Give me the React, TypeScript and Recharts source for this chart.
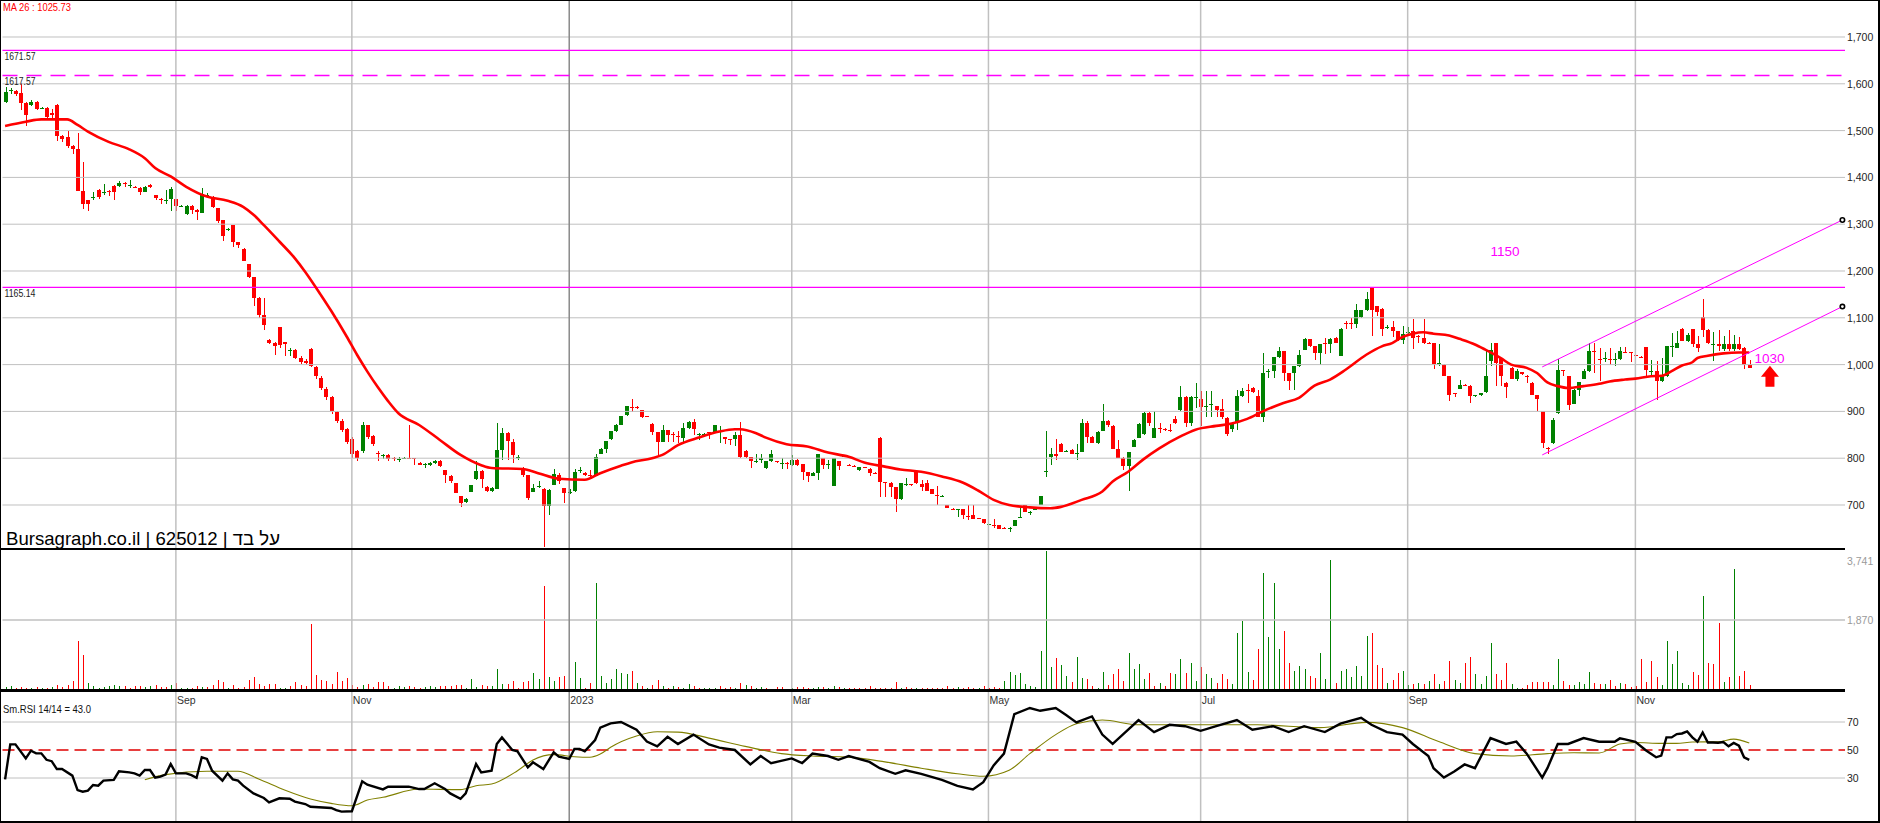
import React from 'react';
import { ComposedChart, Bar, Line, XAxis, YAxis, ReferenceLine, ReferenceDot } from 'recharts';

const FONT = '"Liberation Sans", Arial, Helvetica, sans-serif';
const GREEN = '#008000';
const RED = '#ff0000';
const MAGENTA = '#ff00ff';
const GRID = '#c0c0c0';

const SLOTS = 356; // trading-day slots across the plot, incl. empty room on the right

// daily candles: [open, high, low, close]
const ohlcAugOct22 = [
  [1562, 1594, 1559, 1582], [1584, 1590, 1578, 1586], [1584, 1587, 1573, 1578], [1580, 1601, 1545, 1560],
  [1560, 1562, 1509, 1534], [1555, 1565, 1553, 1562], [1562, 1564, 1543, 1547], [1547, 1550, 1546, 1549],
  [1548, 1550, 1522, 1530], [1538, 1547, 1526, 1534], [1555, 1556, 1477, 1488], [1488, 1490, 1476, 1481],
  [1487, 1499, 1463, 1468], [1468, 1469, 1451, 1461], [1460, 1494, 1371, 1371], [1370, 1432, 1332, 1343],
  [1351, 1352, 1328, 1343], [1357, 1368, 1352, 1359], [1374, 1376, 1354, 1359], [1367, 1386, 1363, 1368],
  [1370, 1372, 1360, 1369], [1381, 1383, 1351, 1369], [1382, 1392, 1380, 1389], [1389, 1391, 1379, 1385],
  [1382, 1394, 1378, 1383], [1380, 1381, 1378, 1379], [1378, 1379, 1363, 1369], [1369, 1381, 1368, 1379],
  [1384, 1386, 1378, 1379], [1362, 1363, 1352, 1357], [1353, 1356, 1343, 1352], [1350, 1372, 1343, 1351],
  [1353, 1380, 1328, 1375], [1353, 1354, 1328, 1339], [1338, 1341, 1337, 1339], [1321, 1340, 1320, 1339],
  [1339, 1340, 1321, 1331], [1331, 1333, 1309, 1325], [1324, 1378, 1323, 1364], [1361, 1367, 1357, 1362],
  [1359, 1360, 1335, 1336], [1334, 1335, 1302, 1307], [1309, 1310, 1265, 1275], [1288, 1292, 1286, 1289],
  [1298, 1299, 1251, 1261], [1261, 1262, 1249, 1255], [1248, 1249, 1221, 1222], [1215, 1216, 1186, 1187],
  [1187, 1188, 1125, 1143], [1143, 1144, 1099, 1107], [1106, 1143, 1073, 1084], [1053, 1054, 1043, 1047],
  [1047, 1048, 1021, 1040], [1080, 1081, 1036, 1041], [1048, 1049, 1019, 1043], [1029, 1036, 1019, 1031],
];

const ohlcOctNov22 = [
  [1031, 1033, 1012, 1015], [1015, 1018, 1002, 1005], [1008, 1012, 1000, 1003], [1033, 1036, 995, 998],
  [995, 998, 970, 975], [972, 975, 945, 950], [948, 952, 925, 930], [930, 933, 895, 900],
  [898, 900, 875, 880], [880, 884, 855, 860], [862, 864, 830, 835], [840, 845, 800, 808],
  [815, 818, 795, 800], [815, 878, 812, 870], [870, 872, 842, 845], [848, 850, 825, 830],
  [812, 815, 795, 810], [805, 810, 798, 806], [806, 808, 795, 798], [800, 803, 795, 799],
  [798, 802, 792, 799],
];

const ohlcNov22Mar23 = [
  [801, 803, 798, 801], [801, 870, 799, 800], [800, 801, 785, 799], [790, 791, 785, 785],
  [786, 790, 780, 787], [785, 791, 784, 790], [790, 796, 788, 795], [795, 796, 782, 783],
  [774, 775, 746, 764], [763, 764, 746, 751], [746, 747, 725, 726], [719, 720, 696, 705],
  [706, 715, 704, 712], [728, 743, 727, 742], [755, 795, 754, 773], [773, 774, 737, 755],
  [739, 740, 727, 729], [729, 738, 728, 737], [735, 876, 734, 817], [817, 864, 796, 854],
  [854, 855, 796, 837], [835, 840, 789, 807], [801, 807, 797, 802], [780, 781, 759, 764],
  [764, 765, 710, 716], [728, 744, 727, 736], [740, 751, 736, 741], [735, 737, 611, 698],
  [698, 734, 678, 733], [743, 776, 742, 766], [764, 769, 745, 751], [736, 737, 705, 726],
  [727, 734, 723, 728], [729, 776, 728, 771], [774, 782, 768, 775], [769, 770, 763, 764],
  [764, 775, 756, 763], [762, 808, 761, 802], [810, 821, 809, 820], [820, 837, 812, 837],
  [840, 859, 839, 858], [858, 873, 857, 872], [872, 891, 871, 890], [892, 912, 891, 911],
  [909, 927, 898, 908], [909, 912, 906, 908], [902, 903, 886, 887], [890, 891, 887, 889],
  [874, 875, 850, 857], [856, 857, 805, 835], [835, 871, 834, 860], [860, 861, 835, 850],
  [851, 855, 835, 850], [847, 858, 833, 845], [844, 876, 833, 864], [864, 879, 862, 877],
  [877, 883, 850, 862], [850, 854, 838, 851], [850, 853, 847, 851], [855, 857, 840, 854],
  [857, 871, 856, 870], [858, 868, 832, 859], [845, 846, 830, 842], [841, 842, 828, 840],
  [840, 856, 826, 849], [849, 878, 801, 802], [816, 817, 801, 802], [802, 803, 778, 794],
  [793, 808, 790, 794], [796, 808, 789, 800], [778, 794, 777, 793], [793, 818, 792, 810],
  [793, 794, 790, 792], [788, 800, 776, 789], [790, 791, 777, 789], [785, 806, 784, 797],
  [797, 798, 784, 785], [787, 788, 754, 770], [770, 771, 749, 762], [762, 770, 761, 769],
  [768, 810, 753, 810], [800, 801, 777, 786], [786, 797, 777, 787], [741, 800, 740, 800],
  [793, 794, 775, 783], [804, 806, 802, 805], [786, 787, 784, 785], [784, 785, 781, 783],
  [774, 782, 773, 781], [781, 782, 778, 780], [777, 778, 762, 769], [769, 770, 766, 768],
  [844, 845, 717, 749], [749, 750, 717, 748], [748, 749, 717, 738], [738, 739, 684, 712],
  [712, 747, 711, 746],
];

const ohlcMarAug23 = [
  [744, 757, 740, 745], [744, 745, 740, 743], [771, 772, 745, 746], [745, 754, 730, 739],
  [746, 754, 729, 730], [734, 735, 724, 724], [722, 740, 700, 721], [719, 722, 718, 720],
  [700, 701, 693, 694], [692, 693, 690, 691], [690, 692, 674, 691], [691, 692, 671, 679],
  [677, 699, 667, 676], [679, 699, 670, 671], [672, 673, 670, 671], [670, 671, 660, 661],
  [658, 660, 657, 659], [658, 670, 651, 657], [657, 658, 648, 648], [651, 652, 648, 650],
  [650, 653, 643, 651], [656, 669, 655, 668], [674, 693, 673, 674], [699, 700, 684, 684],
  [684, 688, 678, 684], [690, 692, 689, 691], [700, 720, 699, 719], [771, 859, 759, 773],
  [802, 821, 786, 809], [809, 841, 797, 804], [831, 832, 813, 814], [815, 818, 814, 816],
  [818, 819, 808, 809], [810, 830, 797, 811], [814, 884, 813, 875], [875, 880, 832, 846],
  [846, 847, 832, 832], [832, 858, 831, 857], [859, 916, 858, 880], [880, 882, 867, 870],
  [869, 870, 819, 820], [820, 838, 801, 801], [801, 802, 775, 784], [784, 814, 729, 814],
  [824, 840, 823, 839], [844, 875, 843, 874], [851, 899, 850, 896], [896, 899, 868, 875],
  [844, 900, 843, 864], [865, 875, 854, 864], [862, 864, 858, 861], [860, 874, 857, 859],
  [884, 890, 874, 875], [902, 955, 900, 930], [930, 932, 866, 875], [875, 933, 869, 930],
  [930, 961, 908, 930], [926, 944, 868, 909], [910, 944, 889, 911], [915, 943, 889, 916],
  [911, 912, 889, 904], [905, 926, 883, 889], [886, 887, 848, 852], [862, 877, 855, 876],
  [875, 945, 861, 932], [932, 949, 931, 943], [945, 959, 919, 944], [950, 952, 940, 941],
  [932, 946, 889, 889], [889, 1024, 878, 982], [985, 990, 972, 986], [986, 1016, 972, 1016],
  [1016, 1037, 1015, 1029], [1029, 1030, 964, 982], [981, 982, 945, 964], [981, 996, 945, 996],
  [996, 1032, 995, 1021], [1032, 1057, 1031, 1054], [1054, 1055, 1038, 1039], [1039, 1040, 1010, 1025],
  [1025, 1045, 1000, 1045], [1046, 1057, 1023, 1045], [1045, 1057, 1025, 1054], [1057, 1058, 1046, 1046],
  [1019, 1079, 1018, 1075], [1088, 1094, 1077, 1087], [1088, 1100, 1077, 1087], [1087, 1130, 1079, 1116],
  [1101, 1117, 1100, 1116], [1116, 1155, 1115, 1141], [1164, 1165, 1061, 1117], [1125, 1126, 1103, 1113],
  [1118, 1120, 1062, 1077],
];

const ohlcAugDec23 = [
  [1079, 1085, 1075, 1080], [1081, 1094, 1060, 1071], [1071, 1072, 1050, 1052], [1052, 1082, 1043, 1066],
  [1068, 1080, 1064, 1069], [1071, 1098, 1034, 1057], [1062, 1063, 1047, 1061], [1057, 1098, 1045, 1046],
  [1047, 1048, 1045, 1046], [1046, 1047, 991, 1002], [1002, 1044, 996, 1004], [1000, 1001, 976, 976],
  [975, 976, 922, 936], [939, 940, 931, 938], [948, 968, 947, 957], [957, 958, 954, 956],
  [955, 956, 918, 932], [933, 936, 931, 934], [934, 940, 933, 939], [941, 1034, 940, 976],
  [1007, 1046, 996, 1032], [1046, 1047, 954, 1004], [1014, 1015, 955, 975], [961, 962, 929, 952],
  [993, 994, 969, 970], [970, 990, 965, 986], [984, 985, 978, 979], [976, 977, 961, 975],
  [961, 962, 934, 934], [934, 935, 900, 926], [900, 901, 821, 832], [822, 823, 809, 821],
  [832, 885, 831, 882], [896, 1011, 895, 988], [988, 989, 975, 987], [975, 976, 903, 914],
  [916, 947, 915, 946], [946, 962, 932, 962], [970, 991, 969, 986], [986, 1046, 985, 1029],
  [1028, 1046, 982, 1027], [1012, 1036, 965, 1011], [1013, 1026, 1005, 1014], [1013, 1036, 1000, 1012],
  [1010, 1024, 998, 1011], [1011, 1038, 1010, 1029], [1027, 1038, 1025, 1026], [1026, 1027, 1005, 1025],
  [1020, 1021, 1018, 1019], [1017, 1018, 1014, 1016], [1037, 1038, 975, 988], [986, 1009, 975, 987],
  [987, 1007, 924, 964], [964, 1014, 963, 975], [975, 1039, 974, 1039], [1038, 1068, 1017, 1039],
  [1036, 1071, 1035, 1046], [1077, 1078, 1050, 1050], [1050, 1068, 1049, 1064], [1076, 1077, 1038, 1045],
  [1045, 1061, 1027, 1036], [1101, 1141, 1059, 1074], [1074, 1075, 1045, 1046], [1044, 1069, 1007, 1045],
  [1045, 1074, 1030, 1039], [1034, 1061, 1029, 1045], [1045, 1074, 1030, 1034], [1034, 1063, 1030, 1045],
  [1045, 1060, 1031, 1034], [1036, 1037, 991, 1000], [1000, 1010, 993, 993],
];

// daily volume (thousands)
const vol2022 = [
  63, 72, 30, 54, 27, 30, 63, 36, 20, 54, 117, 63, 117, 225, 1305, 918, 162, 81, 20, 63,
  90, 117, 90, 90, 36, 72, 81, 45, 72, 108, 63, 63, 117, 162, 27, 18, 27, 81, 63, 63,
  108, 243, 189, 27, 108, 36, 54, 243, 324, 135, 90, 135, 135, 27, 30, 81, 189, 117, 81, 1755,
  378, 243, 207, 135, 459, 216, 297, 108, 63, 117, 135, 54, 189, 189, 90, 27, 81, 63, 81, 45,
  27, 63, 81, 63, 90, 90, 90, 108, 108, 27, 270, 54, 108, 81, 90, 540, 144, 135, 216, 27,
  180, 216, 432, 270, 2781, 324, 216, 324, 351,
];
const vol2023a = [
  9, 729, 297, 36, 162, 2862, 351, 162, 270, 540, 432, 405, 486, 162, 81, 36, 108, 243, 81, 36,
  81, 54, 27, 135, 81, 27, 27, 27, 27, 81, 27, 54, 27, 162, 108, 81, 27, 54, 27, 10,
  54, 54, 10, 20, 54, 54, 27, 27, 54, 54, 20, 81, 54, 27, 27, 20, 20, 20, 81, 20,
  20, 20, 20, 189, 20, 54, 27, 20, 20, 27, 27, 27, 40, 90, 20, 54, 40, 54, 20, 40,
  90, 20, 60, 20, 225, 459, 387, 432, 135, 90, 63, 1035, 3741, 594, 837, 648, 351, 189, 864, 297,
  270, 90, 20, 459, 108, 405, 540, 216, 972, 540, 675, 270, 432, 81, 162, 81, 432, 405, 810, 432,
  702, 216,
];
const vol2023b = [
  594, 405, 297, 162, 405, 270, 135, 1512, 1836, 459, 243, 1080, 3132, 1404, 2862, 1080, 1566, 702, 486, 621,
  540, 351, 297, 972, 270, 3510, 162, 486, 540, 324, 621, 351, 1431, 1512, 648, 567, 162, 243, 432, 486,
  108, 135, 162, 135, 216, 405, 135, 216, 756, 243, 162, 702, 864, 405, 135, 351, 1242, 405, 243, 702,
  135, 27, 27, 108, 189, 189, 189, 189, 108, 810, 216, 108, 108, 189, 135, 459, 162, 135, 135, 243,
  81, 162, 135, 54, 81, 810, 189, 756, 324, 108, 1296, 675, 1026, 162, 108, 459, 378, 2511, 702, 675,
  1782, 189, 324, 3240, 351, 486, 108,
];

// MA 26 read at [day index, value]
const maPoints = [
  [0, 1510], [4, 1519], [7, 1524], [12, 1524], [14, 1512], [16, 1498], [20, 1476], [24, 1460], [27, 1441],
  [29, 1420], [32, 1402], [35, 1380], [39, 1359], [43, 1350], [46, 1337], [48, 1320], [50, 1298], [53, 1263],
  [56, 1227], [58, 1198], [61, 1149], [63, 1115], [66, 1060], [68, 1021], [70, 985], [72, 952], [74, 922],
  [76, 896], [80, 871], [84, 839], [88, 807], [92, 785], [94, 779], [100, 777], [103, 768], [107, 756],
  [112, 754], [115, 768], [119, 784], [121, 791], [125, 800], [127, 807], [130, 828], [134, 844], [138, 857],
  [141, 862], [142, 862], [145, 854], [147, 844], [151, 830], [155, 825], [159, 812], [163, 803], [166, 791],
  [170, 782], [173, 776], [177, 771], [181, 761], [185, 748], [188, 731], [191, 711], [194, 700], [198, 695],
  [202, 693], [204, 696], [208, 711], [212, 729], [214, 750], [217, 771], [220, 798], [223, 821], [227, 846],
  [230, 861], [234, 869], [237, 874], [240, 884], [243, 900], [247, 918], [250, 929], [253, 955], [256, 968],
  [259, 989], [263, 1021], [266, 1039], [268, 1046], [270, 1059], [272, 1066], [274, 1069], [276, 1066],
  [279, 1062], [281, 1055], [284, 1043], [286, 1032], [289, 1014], [291, 1000], [294, 993], [296, 982],
  [298, 962], [300, 954], [302, 950], [305, 954], [308, 959], [310, 964], [313, 968], [315, 970], [318, 975],
  [320, 976], [322, 986], [324, 998], [326, 1005], [327, 1014], [329, 1019], [332, 1024], [335, 1026],
  [337, 1025.73],
];

// Smoothed RSI 14 and its 14-day average, read at [day index, value]
const rsiPoints = [
  [0, 29], [1, 54], [2, 54], [4, 44], [5, 49.5], [6, 47.6], [7, 47.6], [8, 43], [9, 42], [10, 36.4],
  [11, 36.4], [13, 31.7], [14, 21.4], [15, 20.2], [16, 21], [17, 25], [18, 24.5], [19, 28.1], [21, 28.6],
  [22, 34.8], [24, 34], [25, 33.3], [26, 31.7], [27, 35.7], [28, 35.7], [29, 30.2], [30, 31], [31, 32.4],
  [32, 40], [33, 33.3], [35, 33.3], [36, 32.1], [37, 30.2], [38, 44.8], [39, 43.6], [40, 35.2], [42, 28.1],
  [43, 33.3], [44, 29], [45, 28.1], [46, 24.5], [48, 19], [50, 15.7], [51, 12.6], [53, 15.5], [55, 15.2],
  [56, 13.1], [58, 11.4], [59, 9.5], [63, 8.6], [64, 7.1], [65, 6], [67, 6.2], [69, 27.6], [70, 25.2],
  [73, 21.9], [74, 23.8], [78, 23.8], [80, 22.1], [81, 22.1], [83, 26.2], [85, 22.1], [86, 19], [88, 15.2],
  [89, 19], [91, 40], [92, 34], [94, 35.2], [95, 54.3], [96, 59], [98, 50], [99, 49], [101, 37.6],
  [102, 41.2], [104, 36.4], [106, 48.3], [107, 45.2], [109, 43.6], [110, 50.7], [111, 50.7], [112, 49],
  [114, 57.1], [115, 66], [117, 69], [119, 70], [122, 64.5], [124, 56], [126, 52.6], [128, 59.4], [130, 54.3],
  [133, 61], [136, 54], [138, 51.7], [141, 50], [144, 39.7], [146, 45.7], [148, 40.6], [152, 44], [154, 40.6],
  [156, 47.4], [159, 45.7], [161, 43], [163, 45.7], [167, 41.5], [169, 37], [172, 33], [174, 35.5], [177, 33],
  [181, 28.6], [184, 24.4], [187, 21.8], [189, 27], [191, 39], [193, 47.4], [195, 75.6], [198, 80], [200, 78],
  [203, 80], [205, 75], [207, 69.7], [210, 74], [212, 61], [214, 54.3], [217, 64.5], [219, 71.4], [222, 62.8],
  [225, 68], [228, 67], [231, 63.7], [234, 67], [238, 71.4], [241, 64.5], [245, 67], [248, 62.8], [251, 67],
  [255, 62.8], [258, 68.8], [262, 73], [264, 68], [267, 62.8], [270, 61], [272, 54.3], [275, 45.7], [276, 37],
  [278, 30.3], [280, 34.6], [282, 39.7], [284, 37], [287, 58.5], [290, 54.3], [292, 56], [294, 47.4],
  [297, 30.3], [298, 37], [300, 54.3], [302, 54.3], [305, 58.5], [308, 55.9], [311, 55.9], [312, 58.3],
  [313, 57.6], [315, 55.9], [317, 49.8], [319, 44.8], [320, 46], [321, 59], [322, 59], [323, 61.4],
  [324, 61.8], [325, 63.3], [326, 59], [327, 55.9], [328, 62.5], [329, 55.4], [330, 55.4], [331, 55.2],
  [332, 55.7], [333, 52.6], [334, 55], [335, 53.1], [336, 44.8], [337, 43],
];
const rsiSignalPoints = [
  [27, 28.8], [31, 32.4], [39, 34.8], [45, 34.8], [49, 29.3], [54, 21.4], [59, 15], [63, 11.9], [67, 10.2],
  [70, 14.3], [73, 16.2], [80, 22.1], [88, 21.7], [91, 24.5], [94, 25.7], [99, 35.2], [102, 42.9], [106, 46.7],
  [110, 45.2], [113, 44.8], [115, 47.1], [117, 52], [122, 60], [126, 63], [130, 62.8], [136, 58.5], [143, 52.6],
  [150, 47.4], [156, 45.7], [163, 44.9], [170, 41.5], [177, 37], [184, 33], [189, 31.2], [194, 35.5],
  [198, 47.4], [203, 61], [207, 68.8], [212, 71.4], [219, 68], [231, 68], [242, 68], [254, 66], [263, 69.7],
  [270, 66], [277, 56], [284, 47.4], [291, 45.7], [298, 47.4], [303, 48], [308, 47.9], [312, 54.3],
  [315, 55.4], [320, 54.7], [323, 54.7], [326, 55.7], [331, 55.9], [334, 57.8], [337, 55],
];

const monthIdx = [33, 67, 109, 152, 190, 231, 271, 315];
const monthLabels = ['Sep', 'Nov', '2023', 'Mar', 'May', 'Jul', 'Sep', 'Nov'];
const priceTicks = [700, 800, 900, 1000, 1100, 1200, 1300, 1400, 1500, 1600, 1700];
const volTicks = [1870, 3741];
const rsiTicks = [30, 70];
const levels = [1671.57, 1617.57, 1165.14];
const levelDashed = [false, true, false];
const channelUpper = [[297, 995], [355, 1309]];
const channelLower = [[297, 807], [355, 1124]];

const candles = [...ohlcAugOct22, ...ohlcOctNov22, ...ohlcNov22Mar23, ...ohlcMarAug23, ...ohlcAugDec23];
const volumes = [...vol2022, ...vol2023a, ...vol2023b];
const lookup = (pts: number[][], i: number) => {
  const p = pts.find((q) => q[0] === i);
  return p ? p[1] : null;
};

const rows = Array.from({ length: SLOTS }, (_, i) => {
  const k = candles[i];
  const prev = candles[i - 1];
  return {
    i,
    o: k ? k[0] : null,
    h: k ? k[1] : null,
    l: k ? k[2] : null,
    c: k ? k[3] : null,
    range: k ? [k[2], k[1]] : null,
    vol: k ? volumes[i] : null,
    volUp: k ? !prev || k[3] >= prev[3] : true,
    ma: lookup(maPoints, i),
    rsi: lookup(rsiPoints, i),
    rsiMa: lookup(rsiSignalPoints, i),
  };
});

const Candle = (p: any) => {
  const { x, y, width, height, payload } = p;
  if (!payload || payload.o == null) return null;
  const { o, h, l, c } = payload;
  const top = Math.min(y, y + height);
  const bottom = Math.max(y, y + height);
  const at = (v: number) => (h === l ? top : top + ((h - v) / (h - l)) * (bottom - top));
  const color = c >= o ? GREEN : RED;
  const left = Math.round(x + width / 2 - 2);
  const b1 = at(Math.max(o, c));
  const b2 = at(Math.min(o, c));
  return (
    <g shapeRendering="crispEdges">
      <rect x={left + 2} y={top} width={1} height={Math.max(1, bottom - top)} fill={color} />
      <rect x={left} y={b1} width={4} height={Math.max(1, b2 - b1)} fill={color} />
    </g>
  );
};

const VolBar = (p: any) => {
  const { x, y, width, height, payload } = p;
  if (!payload || payload.vol == null || !height) return null;
  const top = Math.min(y, y + height);
  return (
    <rect x={Math.round(x + width / 2)} y={top} width={1} height={Math.abs(height)}
      fill={payload.volUp ? GREEN : RED} shapeRendering="crispEdges" />
  );
};

const small = { fontSize: 10.5, fontFamily: FONT };

const rightLabel = (text: string, color: string, dy: number) => (p: any) => {
  const vb = p.viewBox || {};
  return (
    <text x={vb.x + vb.width + 2} y={vb.y + dy} fill={color} {...small}>{text}</text>
  );
};

// the source draws these labels in a condensed face; squeeze to the measured width
const levelLabel = (text: string) => (p: any) => {
  const vb = p.viewBox || {};
  return (
    <text x={vb.x + 2} y={vb.y + 9.5} fill="#222" {...small} textLength={31} lengthAdjust="spacingAndGlyphs">
      {text}
    </text>
  );
};

const monthLabel = (text: string) => (p: any) => {
  const vb = p.viewBox || {};
  return <text x={vb.x + 1} y={vb.y + 703} fill="#333" {...small}>{text}</text>;
};

const Arrow = (p: any) => {
  const { cx, cy } = p;
  const pts = [
    [cx, cy - 11], [cx + 9, cy], [cx + 4.5, cy], [cx + 4.5, cy + 10],
    [cx - 4.5, cy + 10], [cx - 4.5, cy], [cx - 9, cy],
  ].map((q) => q.join(',')).join(' ');
  return <polygon points={pts} fill={RED} />;
};

const Note = (text: string) => (p: any) => (
  <text x={p.cx} y={p.cy} fill={MAGENTA} fontSize={13.5} fontFamily={FONT}>{text}</text>
);

const EndDot = (p: any) => (
  <circle cx={p.cx} cy={p.cy} r={2.2} fill="#fff" stroke="#000" strokeWidth={1.6} />
);

export default function App() {
  return (
    <div style={{ position: 'absolute', left: 0, top: 0, width: 1880, height: 823, background: '#fff', overflow: 'hidden' }}>
      <ComposedChart width={1880} height={823} data={rows} barGap={-4}
        margin={{ top: 1, right: 35, bottom: 2, left: 2.5 }}>
        <XAxis dataKey="i" hide scale="band" />
        <YAxis yAxisId="price" hide type="number" domain={[24.8, 1776.9]} allowDataOverflow />
        <YAxis yAxisId="vol" hide type="number" domain={[-3578.3, 18650.6]} allowDataOverflow />
        <YAxis yAxisId="rsi" hide type="number" domain={[-0.714, 585]} allowDataOverflow />

        {priceTicks.map((v) => (
          <ReferenceLine key={'p' + v} yAxisId="price" y={v} stroke={GRID} strokeWidth={1}
            label={rightLabel(v.toLocaleString('en-US'), '#222', 4)} />
        ))}
        <ReferenceLine yAxisId="vol" y={volTicks[0]} stroke={GRID} strokeWidth={1.5}
          label={rightLabel(volTicks[0].toLocaleString('en-US'), '#9a9a9a', 4)} />
        <ReferenceLine yAxisId="vol" y={volTicks[1]} stroke="none"
          label={rightLabel(volTicks[1].toLocaleString('en-US'), '#9a9a9a', 14.5)} />
        {rsiTicks.map((v) => (
          <ReferenceLine key={'r' + v} yAxisId="rsi" y={v} stroke={GRID} strokeWidth={1}
            label={rightLabel(String(v), '#222', 4)} />
        ))}
        {monthIdx.map((m, k) => (
          <ReferenceLine key={'m' + m} yAxisId="price" x={m} stroke={k === 2 ? '#8a8a8a' : GRID} strokeWidth={1.5}
            label={monthLabel(monthLabels[k])} />
        ))}

        <Bar yAxisId="vol" dataKey="vol" barSize={4} shape={VolBar} isAnimationActive={false} />
        <Bar yAxisId="price" dataKey="range" barSize={4} shape={Candle} isAnimationActive={false} />

        <ReferenceLine yAxisId="rsi" y={50} stroke="#e00000" strokeWidth={1.5} strokeDasharray="12 6"
          label={rightLabel('50', '#222', 4)} />

        {levels.map((v, k) => (
          <ReferenceLine key={'l' + v} yAxisId="price" y={v} stroke={MAGENTA}
            strokeWidth={levelDashed[k] ? 1.5 : 1.2} strokeDasharray={levelDashed[k] ? '15 9' : undefined}
            label={levelLabel(v.toFixed(2))} />
        ))}

        <Line yAxisId="price" dataKey="ma" stroke={RED} strokeWidth={2.6} dot={false} connectNulls
          type="monotone" isAnimationActive={false} />
        <Line yAxisId="rsi" dataKey="rsiMa" stroke="#808000" strokeWidth={1.1} dot={false} connectNulls
          type="monotone" isAnimationActive={false} />
        <Line yAxisId="rsi" dataKey="rsi" stroke="#000" strokeWidth={2.4} dot={false} connectNulls
          type="linear" isAnimationActive={false} />

        <ReferenceLine yAxisId="price" ifOverflow="visible" stroke={MAGENTA} strokeWidth={1}
          segment={channelUpper.map(([x, y]) => ({ x, y }))} />
        <ReferenceLine yAxisId="price" ifOverflow="visible" stroke={MAGENTA} strokeWidth={1}
          segment={channelLower.map(([x, y]) => ({ x, y }))} />
        <ReferenceDot yAxisId="price" x={channelUpper[1][0]} y={channelUpper[1][1]} ifOverflow="visible" shape={EndDot} />
        <ReferenceDot yAxisId="price" x={channelLower[1][0]} y={channelLower[1][1]} ifOverflow="visible" shape={EndDot} />

        <ReferenceDot yAxisId="price" x={287} y={1233} ifOverflow="visible" shape={Note('1150')} />
        <ReferenceDot yAxisId="price" x={338} y={1004} ifOverflow="visible" shape={Note('1030')} />
        <ReferenceDot yAxisId="price" x={341} y={974} ifOverflow="visible" shape={Arrow} />
      </ComposedChart>

      <svg width={1880} height={823} style={{ position: 'absolute', left: 0, top: 0, pointerEvents: 'none' }}>
        <text x={3} y={11} fill={RED} fontSize={11} fontFamily={FONT} textLength={68} lengthAdjust="spacingAndGlyphs">
          MA 26 : 1025.73
        </text>
        <text x={3} y={713} fill="#111" fontSize={11} fontFamily={FONT} textLength={88} lengthAdjust="spacingAndGlyphs">
          Sm.RSI 14/14 = 43.0
        </text>
        <rect x={0} y={548} width={1845} height={2} fill="#000" />
        <rect x={0} y={689} width={1845} height={3} fill="#000" />
        <rect x={0} y={0} width={1} height={823} fill="#000" />
        <rect x={0} y={0} width={1880} height={1} fill="#000" />
        <rect x={1878} y={0} width={2} height={823} fill="#000" />
        <rect x={0} y={821} width={1880} height={2} fill="#000" />
      </svg>
      <div style={{ position: 'absolute', left: 6, top: 528, fontSize: 18.6, lineHeight: '22px', fontFamily: FONT, whiteSpace: 'nowrap', color: '#000' }}>
        Bursagraph.co.il | 625012 | על בד
      </div>
    </div>
  );
}
